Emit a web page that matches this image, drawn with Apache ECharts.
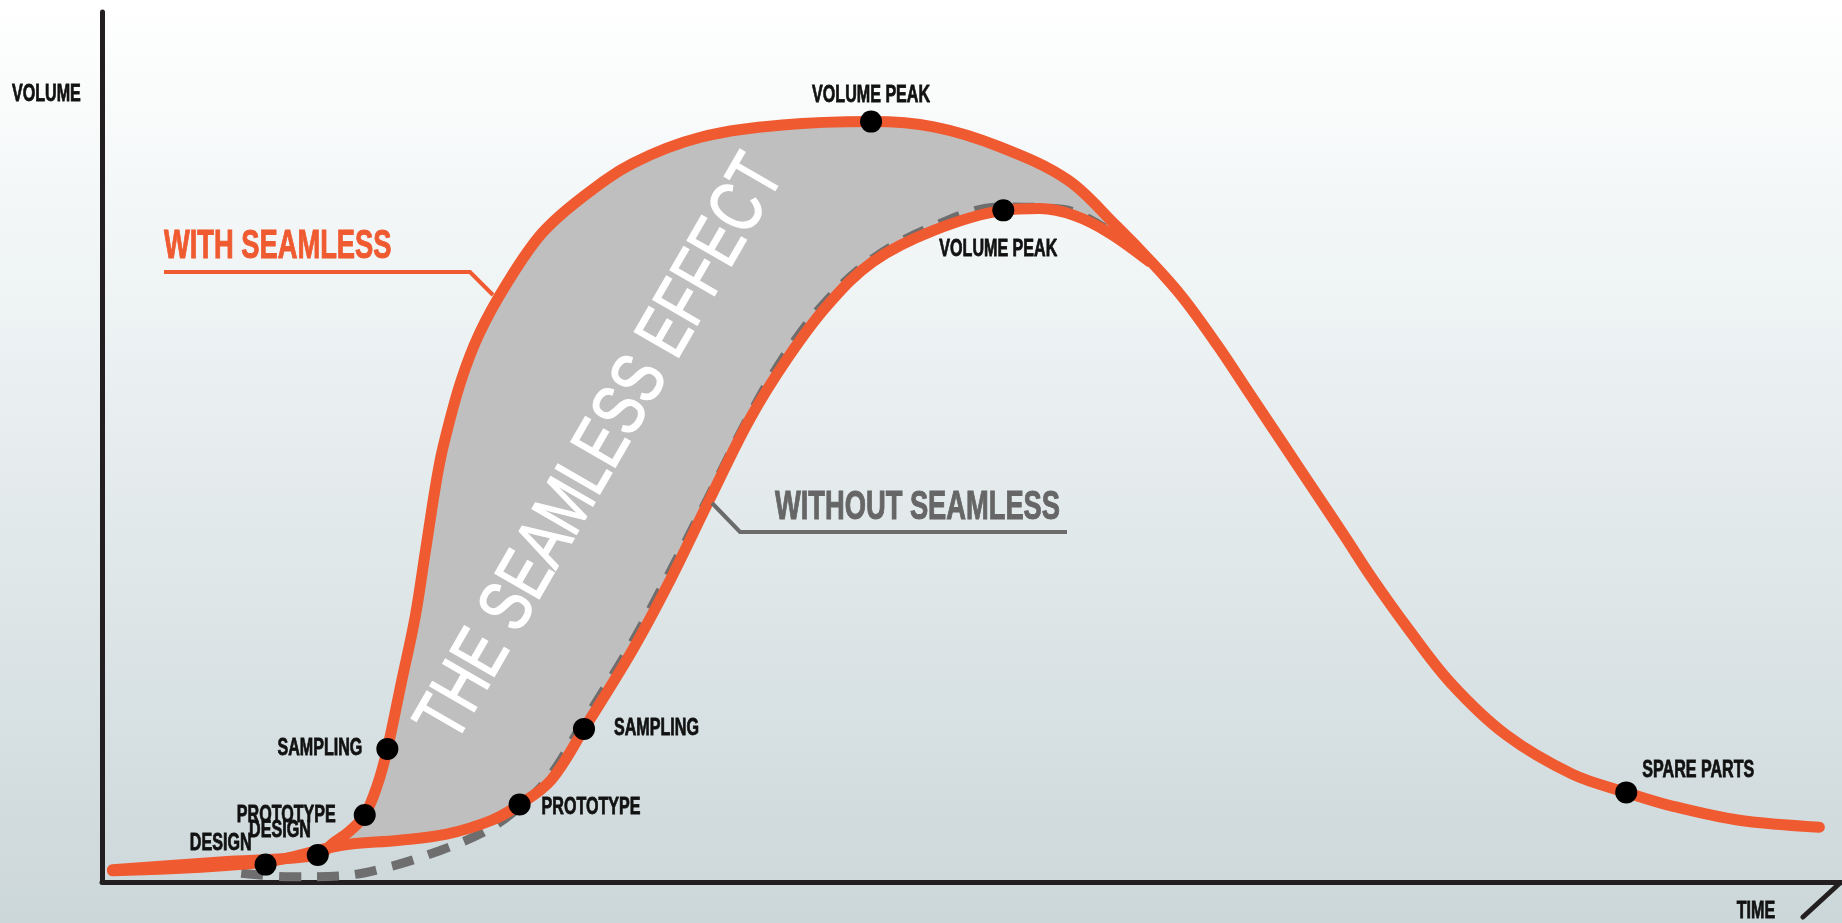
<!DOCTYPE html>
<html>
<head>
<meta charset="utf-8">
<title>The Seamless Effect</title>
<script src="https://cdn.jsdelivr.net/npm/echarts@6/dist/echarts.min.js"></script>
<style>
  html, body { margin: 0; padding: 0; }
  #chart { width: 1842px; height: 923px; }
</style>
</head>
<body>
<div id="chart"></div>
<script>
// time (0-100) against volume (0-100)
var withSeamless = [
  [0.6, 1.4], [6.8, 2.3], [12.4, 3.1], [13.3, 4.5], [14.2, 5.8], [15.1, 7.7], [15.8, 11.0],
  [16.4, 15.3], [17.2, 22.9], [18.0, 30.5], [18.6, 38.2], [19.2, 45.9], [19.6, 50.0],
  [20.6, 57.4], [21.7, 63.1], [23.3, 68.9], [25.3, 74.6], [27.6, 78.7], [30.5, 82.6],
  [34.4, 85.6], [39.1, 87.0], [44.2, 87.4], [47.8, 86.8], [51.6, 84.5], [55.5, 80.7],
  [58.3, 75.4], [60.2, 71.5], [62.1, 67.2], [64.1, 61.7], [66.0, 56.0], [67.9, 50.3],
  [69.8, 44.6], [71.4, 39.8], [73.0, 34.9], [75.0, 29.3], [77.5, 22.9], [80.7, 16.9],
  [84.5, 12.4], [87.6, 10.3], [90.3, 8.7], [94.1, 7.1], [98.7, 6.3]
];
var withoutSeamless = [
  [0.6, 1.3], [9.4, 2.3], [13.7, 4.2], [17.1, 4.8], [19.8, 5.5], [22.4, 7.1], [24.0, 8.9],
  [25.8, 11.7], [27.7, 17.6], [30.5, 26.7], [32.5, 34.1], [34.9, 43.9], [37.2, 53.1],
  [39.4, 60.2], [41.7, 66.3], [44.3, 71.3], [47.8, 74.9], [51.8, 77.2], [53.9, 77.4],
  [55.9, 76.6], [57.9, 74.6], [60.2, 71.3]
];
// the grey dashed trace under the "without" curve
var withoutDashed = [
  [8.0, 1.0], [10.8, 0.6], [13.7, 0.7], [16.6, 1.8], [19.4, 3.6], [22.0, 5.8], [23.8, 8.3],
  [25.6, 11.8], [27.5, 17.8], [30.3, 26.9], [32.3, 34.3], [34.8, 44.0], [37.1, 53.2],
  [39.2, 60.4], [41.5, 66.5], [44.2, 71.5], [47.6, 75.2], [51.6, 77.6], [55.3, 77.3], [57.6, 75.2]
];

var withStages = ['DESIGN', 'PROTOTYPE', 'SAMPLING', 'VOLUME PEAK', 'SPARE PARTS'];
var withStagePoints = [[12.4, 3.1], [15.1, 7.7], [16.4, 15.3], [44.2, 87.4], [87.6, 10.3]];
var withoutStages = ['DESIGN', 'PROTOTYPE', 'SAMPLING', 'VOLUME PEAK'];
var withoutStagePoints = [[9.4, 2.0], [24.0, 8.9], [27.7, 17.6], [51.8, 77.2]];

// label placement next to each dot: [dx, dy, align]
var withLabelPlace = [[-7, -25, 'right'], [-29, 0, 'right'], [-25, -1, 'right'], [0, -26, 'center'], [16, -22, 'left']];
var withoutLabelPlace = [[-14, -21, 'right'], [22, 3, 'left'], [30, -1, 'left'], [-5, 39, 'center']];

var ORANGE = '#f05a30';
var FAMILY = '"Liberation Sans Narrow", "Liberation Sans", sans-serif';

// grey band between the two curves
var upperPart = withSeamless.filter(function (p) { return p[0] >= 13.3 && p[0] <= 60.2; });
var lowerPart = withoutSeamless.filter(function (p) { return p[0] >= 13.7 && p[0] < 60.2; }).reverse();
var seamlessBand = upperPart.concat(lowerPart);

var chart = echarts.init(document.getElementById('chart'));

chart.setOption({
  animation: false,
  backgroundColor: {
    type: 'linear', x: 0, y: 0, x2: 0, y2: 1,
    colorStops: [
      { offset: 0, color: '#ffffff' },
      { offset: 0.33, color: '#eef3f4' },
      { offset: 0.76, color: '#d8e1e3' },
      { offset: 1, color: '#ccd7da' }
    ]
  },
  grid: { left: 102, right: 0, top: 12, bottom: 41 },
  xAxis: {
    type: 'value', min: 0, max: 100,
    axisLine: { lineStyle: { color: '#231f20', width: 5 } },
    axisTick: { show: false }, axisLabel: { show: false }, splitLine: { show: false }
  },
  yAxis: {
    type: 'value', min: 0, max: 100,
    axisLine: { show: true, lineStyle: { color: '#231f20', width: 5 } },
    axisTick: { show: false }, axisLabel: { show: false }, splitLine: { show: false }
  },
  series: [
    {
      type: 'custom',
      coordinateSystem: 'cartesian2d',
      data: [[0, 0]],
      silent: true,
      z: 1,
      renderItem: function (params, api) {
        return {
          type: 'polygon',
          shape: { points: seamlessBand.map(function (p) { return api.coord(p); }), smooth: 0.3 },
          style: { fill: '#bfbfbf' }
        };
      }
    },
    {
      type: 'line', data: withoutDashed, smooth: 0.35, showSymbol: false, z: 2, silent: true,
      lineStyle: { color: '#6e6e6e', width: 9, type: [22, 16] }
    },
    {
      type: 'line', data: withoutSeamless, smooth: 0.35, showSymbol: false, z: 3, silent: true,
      lineStyle: { color: ORANGE, width: 11, cap: 'round', join: 'round' }
    },
    {
      type: 'line', data: withSeamless, smooth: 0.35, showSymbol: false, z: 4, silent: true,
      lineStyle: { color: ORANGE, width: 11, cap: 'round', join: 'round' }
    },
    {
      type: 'scatter', data: withStagePoints.concat(withoutStagePoints), symbolSize: 22, z: 5,
      itemStyle: { color: '#000000', opacity: 1 }
    }
  ]
});

// condensed look: squeeze the text horizontally to the widths seen in the picture
var ctx = document.createElement('canvas').getContext('2d');
function measure(font, s) { ctx.font = font; return ctx.measureText(s).width; }
var labelFont = 'bold 24px ' + FAMILY;
var titleFont = 'bold 41px ' + FAMILY;
var effectFont = '74px ' + FAMILY;
var labelSqueeze = 118 / measure(labelFont, 'VOLUME PEAK');
var titleSqueeze = 285 / measure(titleFont, 'WITHOUT SEAMLESS');
var effectSqueeze = 660 / measure(effectFont, 'THE SEAMLESS EFFECT');

function px(p) { return chart.convertToPixel({ gridIndex: 0 }, p); }

function label(text, x, y, align, font, fill, squeeze, shadow, weight) {
  return {
    type: 'text', x: x, y: y, scaleX: squeeze, z: 100, silent: true,
    style: {
      text: text, font: font, fill: fill, align: align, verticalAlign: 'middle',
      stroke: fill, lineWidth: weight,
      textShadowColor: shadow, textShadowOffsetX: 1, textShadowOffsetY: 2
    }
  };
}

var graphics = [];
function stageLabels(names, points, place) {
  names.forEach(function (name, i) {
    var c = px(points[i]);
    graphics.push(label(name, c[0] + place[i][0], c[1] + place[i][1], place[i][2],
      labelFont, '#111111', labelSqueeze, 'rgba(0,0,0,0.3)', 0.8));
  });
}
stageLabels(withStages, withStagePoints, withLabelPlace);
stageLabels(withoutStages, withoutStagePoints, withoutLabelPlace);

// axis hooks and names
var top = px([0, 100]);
var end = px([100, 0]);
graphics.push({
  type: 'polyline', z: 100, silent: true,
  shape: { points: [[top[0] - 1, top[1] - 2], [top[0] - 37, top[1] + 38]] },
  style: { stroke: '#231f20', lineWidth: 5, lineCap: 'round' }
});
graphics.push({
  type: 'polyline', z: 100, silent: true,
  shape: { points: [[end[0] - 2, end[1] + 1], [end[0] - 39, end[1] + 35]] },
  style: { stroke: '#231f20', lineWidth: 5, lineCap: 'round' }
});
graphics.push(label('VOLUME', 12, 94, 'left', labelFont, '#111111', labelSqueeze, 'rgba(0,0,0,0.3)', 0.8));
graphics.push(label('TIME', 1756, 911, 'center', labelFont, '#111111', labelSqueeze, 'rgba(0,0,0,0.3)', 0.8));

// curve names with leader lines
graphics.push(label('WITH SEAMLESS', 164, 247, 'left', titleFont, ORANGE, titleSqueeze, 'rgba(240,90,48,0.35)', 1));
graphics.push({
  type: 'polyline', z: 100, silent: true,
  shape: { points: [[164, 272], [470, 272], [493, 295]] },
  style: { stroke: ORANGE, lineWidth: 4 }
});
graphics.push(label('WITHOUT SEAMLESS', 775, 508, 'left', titleFont, '#666666', titleSqueeze, 'rgba(0,0,0,0.2)', 1));
graphics.push({
  type: 'polyline', z: 100, silent: true,
  shape: { points: [[712, 503], [740, 532], [1067, 532]] },
  style: { stroke: '#6b6b6b', lineWidth: 4 }
});

// the big rotated caption inside the band
graphics.push({
  type: 'text', x: 602, y: 449, rotation: Math.PI / 3, scaleX: effectSqueeze, z: 100, silent: true,
  style: { text: 'THE SEAMLESS EFFECT', font: effectFont, fill: '#ffffff', align: 'center', verticalAlign: 'middle',
    stroke: '#ffffff', lineWidth: 1.5 }
});

chart.setOption({ graphic: graphics });
</script>
</body>
</html>
